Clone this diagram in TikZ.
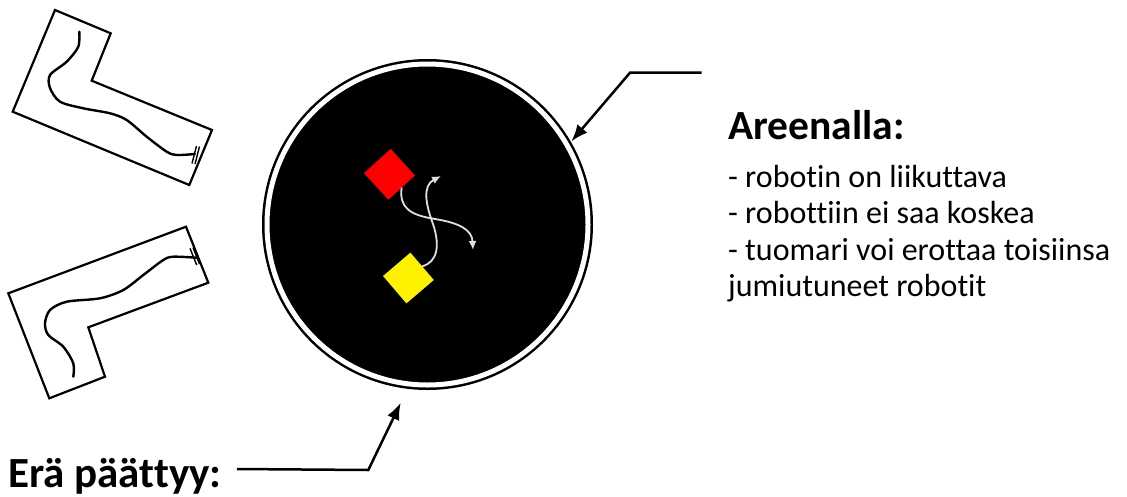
\documentclass[tikz,border=0pt]{standalone}
\usepackage{fontspec}
\setmainfont{Carlito}[Ligatures=NoCommon]
\usetikzlibrary{arrows.meta, positioning}

\tikzset{
  pointer/.style={line width=2.5pt, -{Latex[length=17pt,width=13pt]}},
  track/.style={line width=2.2pt, line join=miter},
  route/.style={line width=2.4pt, line cap=round},
  robot/.style={minimum size=36pt, inner sep=0pt, outer sep=0pt},
  trail/.style={draw=white!88!black, line width=1.8pt, -{Latex[length=9pt,width=8pt]}},
}

\begin{document}
\begin{tikzpicture}[x=1pt, y=-1pt]
    \useasboundingbox (0,0) rectangle (1127,496);

    % upper track sheet
    \draw[track] (55,10) -- (110.7,33.3) -- (91.7,80.7) -- (212,130) -- (189.3,185) -- (12.7,111.7) -- cycle;
    \draw[route] plot[smooth] coordinates {(79.3,31.7) (78.3,46.7) (66.7,61.7) (50,75) (50,88) (60,101.7) (83.3,108.3) (110,113.3) (126.7,120) (146.7,136.7) (166.7,151.7) (176.7,155) (195,154)};
    \draw[line width=1.4pt] (199.5,146.5) -- (195,164); % finish mark
    \draw[line width=1.4pt] (196.5,146) -- (192,163.5);

    % lower track sheet
    \draw[track] (186,226.7) -- (208.3,282.7) -- (88.3,327.3) -- (105,376.7) -- (49.3,398.3) -- (8.3,293.3) -- cycle;
    \draw[route] plot[smooth] coordinates {(73.3,376.7) (73.3,363.3) (63.3,346.7) (48.3,335) (45,323.3) (50,310) (66.7,301.7) (100,298.3) (123.3,290) (143.3,275) (163.3,260) (173.3,256.7) (196.7,257.7)};
    \draw[line width=1.4pt] (190,248.3) -- (196.7,265); % finish mark
    \draw[line width=1.4pt] (193,247.5) -- (199.5,264);

    % the arena
    \node[circle, draw=black, fill=black, double=white, double distance=5pt, line width=2.5pt,
          minimum size=321pt, inner sep=0pt, outer sep=5.5pt] (arena) at (427.5,224.5) {};

    % robots and their paths
    \node[robot, fill=red, rotate=42.4] (red) at (389.5,174.3) {};
    \node[robot, fill=yellow, rotate=40.5] (yellow) at (408.4,278) {};
    \coordinate (redGoal) at (473,250);
    \coordinate (yellowGoal) at (441,176);
    \draw[trail] (red.south) .. controls (399,208) and (410,215) .. (435,219)
                 .. controls (460,223) and (472,230) .. (redGoal);
    \draw[trail] (yellow.east) .. controls (438,262) and (440,245) .. (433,224)
                 .. controls (426,205) and (422,186) .. (yellowGoal);

    % texts
    \node[anchor=base west, font=\bfseries\fontsize{41.5}{49}\selectfont, inner sep=0pt] (arenaTitle) at (728,139.3) {Areenalla:};
    \node[anchor=north west, align=left, font=\fontsize{32}{36.5}\selectfont, inner sep=0pt] (arenaRules) at (728,165)
        {- robotin on liikuttava\\- robottiin ei saa koskea\\- tuomari voi erottaa toisiinsa\\jumiutuneet robotit};
    \node[anchor=base west, font=\bfseries\fontsize{43}{50}\selectfont, inner sep=0pt] (roundEnd) at (8,487) {Erä päättyy:};

    % pointers
    \coordinate (topStart) at (701.7,72.7);
    \coordinate (topBend) at (630,72.7);
    \draw[pointer] (topStart) -- (topBend) -- (arena.30);
    \coordinate (lowBend) at (368.3,470);
    \draw[pointer, shorten >=15pt] ([xshift=15pt, yshift=18pt]roundEnd.base east) -- (lowBend) -- (arena.263);
\end{tikzpicture}
\end{document}
